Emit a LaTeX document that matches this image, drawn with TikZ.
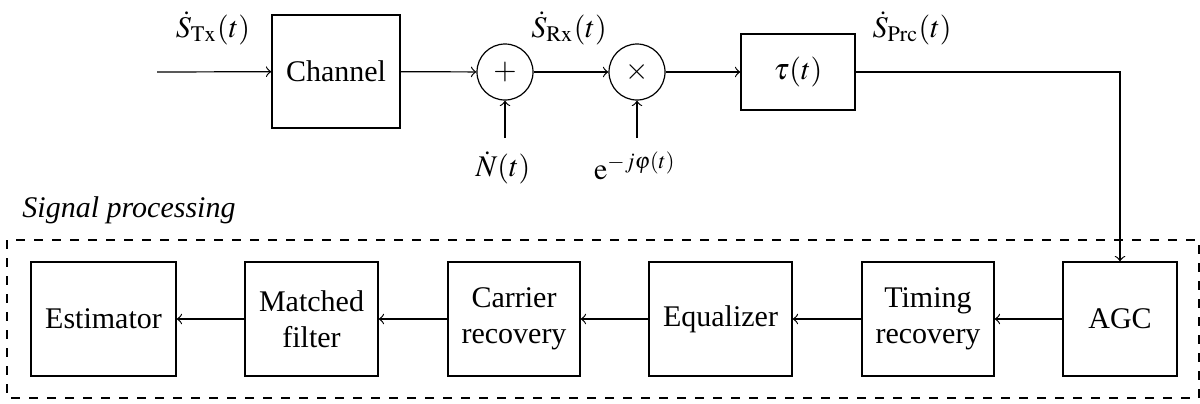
\documentclass[tikz,border=0pt]{standalone}
\usepackage{mathptmx}
\usepackage[no-math]{fontspec}
\setmainfont{Liberation Serif}
\usetikzlibrary{arrows}
\begin{document}
\begin{tikzpicture}[x=0.3333pt,y=-0.3333pt,
  blk/.style={draw,line width=0.4pt,inner sep=0pt,align=center,font=\fontsize{10}{12}\selectfont},
  sumc/.style={draw,circle,line width=0.4pt,minimum size=56*0.3333pt,inner sep=0pt},
  lbl/.style={inner sep=0pt},
  conn/.style={->,line width=0.4pt}]
\useasboundingbox (0,0) rectangle (1200,403);
% top row
\coordinate (in) at (157,72);
\node[blk,minimum width=128*0.3333pt,minimum height=113*0.3333pt] (ch) at (336,71.5) {Channel};
\node[sumc] (plus) at (505,72) {$+$};
\node[sumc] (mul) at (637,72) {$\times$};
\node[blk,minimum width=114*0.3333pt,minimum height=76*0.3333pt] (tau) at (798,72) {$\tau(t)$};
\node[lbl] (stx) at (213,28) {$\dot{S}_{\mathrm{Tx}}(t)$};
\node[lbl] (srx) at (569,28) {$\dot{S}_{\mathrm{Rx}}(t)$};
\node[lbl] (sprc) at (912,28) {$\dot{S}_{\mathrm{Prc}}(t)$};
\node[lbl] (nt) at (503,168) {$\dot{N}(t)$};
\node[lbl] (ex) at (635,166) {$\mathrm{e}^{-j\varphi(t)}$};
\coordinate (ntop) at (505,138);
\coordinate (etop) at (637,138);
\coordinate (corner) at (1120,72);
% bottom row
\node[lbl,font=\itshape] (sp) at (129,210) {Signal processing};
\draw[dashed,line width=0.4pt] (7,240) rectangle (1199,398);
\node[blk,minimum width=145*0.3333pt,minimum height=114*0.3333pt] (est) at (103.5,319) {Estimator};
\node[blk,minimum width=133*0.3333pt,minimum height=114*0.3333pt] (mf) at (311.5,319) {Matched\\filter};
\node[blk,minimum width=132*0.3333pt,minimum height=114*0.3333pt] (cr) at (514,319) {Carrier\\recovery};
\node[blk,minimum width=143*0.3333pt,minimum height=114*0.3333pt] (eq) at (720.5,319) {Equalizer};
\node[blk,minimum width=132*0.3333pt,minimum height=114*0.3333pt] (tr) at (928,319) {Timing\\recovery};
\node[blk,minimum width=114*0.3333pt,minimum height=114*0.3333pt] (agc) at (1120,319) {AGC};
% connectors
\draw[conn] (in) -- (ch);
\draw[conn] (ch) -- (plus);
\draw[conn] (plus) -- (mul);
\draw[conn] (mul) -- (tau);
\draw[conn] (ntop) -- (plus);
\draw[conn] (etop) -- (mul);
\draw[conn] (tau.east) -- (corner) -- (agc.north);
\draw[conn] (agc) -- (tr);
\draw[conn] (tr) -- (eq);
\draw[conn] (eq) -- (cr);
\draw[conn] (cr) -- (mf);
\draw[conn] (mf) -- (est);
\end{tikzpicture}
\end{document}
